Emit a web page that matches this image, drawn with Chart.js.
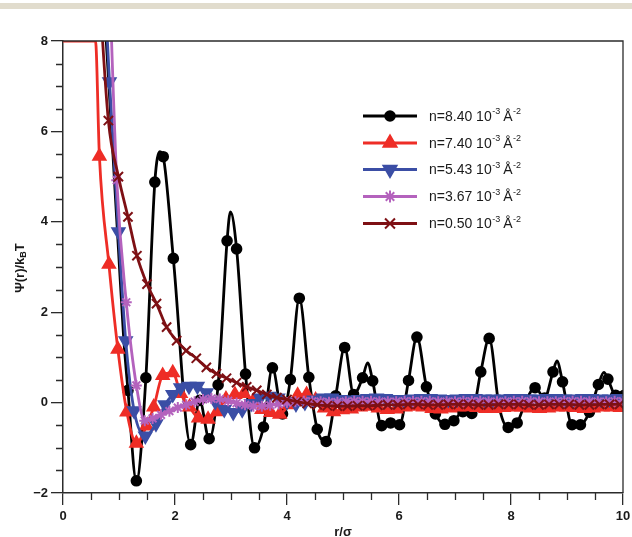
<!DOCTYPE html>
<html>
<head>
<meta charset="utf-8">
<script src="https://cdn.jsdelivr.net/npm/chart.js@4.4.1/dist/chart.umd.min.js"></script>
<style>
  body { margin: 0; background: #fff; }
  #wrap { position: absolute; left: 0; top: 0; width: 632px; height: 537px; }
  #band { position: absolute; left: 0; top: 3px; width: 632px; height: 6px; background: #e1dccd; }
</style>
</head>
<body>
<div id="wrap"><canvas id="chart" width="632" height="537"></canvas></div>
<div id="band"></div>
<script>
// n = 8.40 (black, circles) - 1 = marker shown, 0 = line only
const blackX = [0.70, 0.84, 0.99, 1.08, 1.16, 1.31, 1.48, 1.64, 1.73, 1.79, 1.97, 2.28, 2.44, 2.61, 2.77, 2.93, 2.99, 3.10,
  3.26, 3.42, 3.58, 3.74, 3.92, 4.06, 4.22, 4.39, 4.54, 4.70, 4.87, 5.03, 5.19, 5.35, 5.44, 5.53, 5.69, 5.85, 6.01,
  6.17, 6.32, 6.49, 6.65, 6.82, 6.98, 7.14, 7.30, 7.46, 7.61, 7.79, 7.95, 8.11, 8.27, 8.43, 8.60, 8.75, 8.82, 8.92,
  9.09, 9.24, 9.40, 9.56, 9.66, 9.73, 9.87, 10.02];
const blackY = [9.5, 6.6, 3.4, 1.5, 0.27, -1.73, 0.55, 4.88, 5.55, 5.44, 3.19, -0.93, 0.05, -0.80, 0.39, 3.58, 4.22, 3.40,
  0.63, -1.00, -0.54, 0.77, -0.25, 0.51, 2.31, 0.56, -0.59, -0.86, 0.15, 1.22, 0.18, 0.55, 0.88, 0.48, -0.51, -0.45, -0.49,
  0.49, 1.45, 0.35, -0.25, -0.48, -0.40, -0.20, -0.24, 0.68, 1.42, -0.10, -0.55, -0.45, 0.05, 0.33, 0.10, 0.68, 0.92, 0.46,
  -0.49, -0.49, -0.21, 0.40, 0.67, 0.52, 0.16, 0.16];
const blackDot = [0, 0, 0, 0, 1, 1, 1, 1, 0, 1, 1, 1, 1, 1, 1, 1, 0, 1,
  1, 1, 1, 1, 1, 1, 1, 1, 1, 1, 1, 1, 1, 1, 0, 1, 1, 1, 1,
  1, 1, 1, 1, 1, 1, 1, 1, 1, 1, 1, 1, 1, 1, 1, 1, 1, 0, 1,
  1, 1, 1, 1, 0, 1, 1, 1];

// n = 7.40 (red, triangles)
const redX = [0, 0.58, 0.65, 0.82, 0.98, 1.14, 1.31, 1.49, 1.62, 1.78, 1.96, 2.10, 2.26, 2.42, 2.59, 2.75, 2.91, 3.07,
  3.23, 3.39, 3.55, 3.71, 3.87, 4.03, 4.19, 4.35, 4.51, 4.67, 4.83, 4.99, 5.15, 5.31, 5.47, 5.63, 5.79, 5.95, 6.11,
  6.27, 6.43, 6.59, 6.75, 6.91, 7.07, 7.23, 7.39, 7.55, 7.71, 7.87, 8.03, 8.19, 8.35, 8.51, 8.67, 8.83, 8.99, 9.15,
  9.31, 9.47, 9.63, 9.79, 9.95];
const redY = [8.0, 8.0, 5.45, 3.06, 1.18, -0.21, -0.90, -0.52, -0.10, 0.60, 0.66, 0.20, -0.10, -0.34, -0.37, -0.20, 0.08, 0.18,
  0.20, 0.02, -0.15, -0.22, -0.26, -0.05, 0.16, 0.18, 0.06, -0.12, -0.20, -0.16, -0.14, -0.10, -0.08, -0.12, -0.15, -0.14, -0.10,
  -0.08, -0.10, -0.13, -0.14, -0.12, -0.10, -0.09, -0.11, -0.13, -0.13, -0.11, -0.10, -0.10, -0.12, -0.13, -0.12, -0.10, -0.10, -0.11,
  -0.13, -0.12, -0.10, -0.10, -0.11];

// n = 5.43 (blue, inverted triangles)
const blueX = [0.67, 0.83, 0.99, 1.12, 1.27, 1.47, 1.66, 1.82, 1.96, 2.10, 2.25, 2.40, 2.56, 2.72, 2.88, 3.04, 3.20, 3.36,
  3.52, 3.68, 3.84, 4.00, 4.16, 4.32, 4.48, 4.64, 4.80, 4.96, 5.12, 5.28, 5.44, 5.60, 5.76, 5.92, 6.08, 6.24, 6.40,
  6.56, 6.72, 6.88, 7.04, 7.20, 7.36, 7.52, 7.68, 7.84, 8.00, 8.16, 8.32, 8.48, 8.64, 8.80, 8.96, 9.12, 9.28, 9.44,
  9.60, 9.76, 9.92];
const blueY = [11.0, 7.10, 3.78, 1.37, -0.18, -0.74, -0.47, -0.05, 0.18, 0.33, 0.36, 0.36, 0.22, 0.02, -0.15, -0.22, -0.16, -0.02,
  0.10, 0.14, 0.10, 0.02, -0.03, 0.00, 0.06, 0.10, 0.10, 0.07, 0.06, 0.07, 0.09, 0.10, 0.09, 0.07, 0.07, 0.08, 0.09,
  0.09, 0.08, 0.07, 0.08, 0.09, 0.09, 0.08, 0.08, 0.08, 0.09, 0.09, 0.08, 0.08, 0.09, 0.09, 0.08, 0.08, 0.09, 0.09,
  0.08, 0.08, 0.09];

// n = 3.67 (purple, asterisks)
const purpleX = [0.80, 0.96, 1.13, 1.31, 1.46, 1.60, 1.75, 1.90, 2.05, 2.20, 2.35, 2.50, 2.65, 2.80, 2.95, 3.10, 3.25, 3.40,
  3.55, 3.70, 3.85, 4.00, 4.15, 4.30, 4.45, 4.60, 4.75, 4.90, 5.05, 5.20, 5.35, 5.50, 5.65, 5.80, 5.95, 6.10, 6.25,
  6.40, 6.55, 6.70, 6.85, 7.00, 7.15, 7.30, 7.45, 7.60, 7.75, 7.90, 8.05, 8.20, 8.35, 8.50, 8.65, 8.80, 8.95, 9.10,
  9.25, 9.40, 9.55, 9.70, 9.85, 10.0];
const purpleY = [10.5, 4.92, 2.22, 0.38, -0.40, -0.35, -0.27, -0.19, -0.11, -0.05, 0.02, 0.07, 0.09, 0.08, 0.04, -0.01, -0.05, -0.08,
  -0.08, -0.06, -0.03, 0.00, 0.02, 0.03, 0.03, 0.02, 0.01, 0.01, 0.02, 0.03, 0.03, 0.03, 0.02, 0.02, 0.02, 0.03, 0.03,
  0.03, 0.03, 0.02, 0.02, 0.02, 0.03, 0.03, 0.03, 0.02, 0.02, 0.02, 0.03, 0.03, 0.03, 0.02, 0.02, 0.02, 0.03, 0.03,
  0.03, 0.02, 0.02, 0.02, 0.03, 0.03];

// n = 0.50 (dark red, crosses)
const darkX = [0.64, 0.81, 0.99, 1.16, 1.32, 1.50, 1.67, 1.85, 2.03, 2.20, 2.38, 2.56, 2.74, 2.92, 3.10, 3.28, 3.46, 3.64,
  3.82, 4.00, 4.18, 4.36, 4.54, 4.72, 4.90, 5.08, 5.26, 5.44, 5.62, 5.80, 5.98, 6.16, 6.34, 6.52, 6.70, 6.88, 7.06,
  7.24, 7.42, 7.60, 7.78, 7.96, 8.14, 8.32, 8.50, 8.68, 8.86, 9.04, 9.22, 9.40, 9.58, 9.76, 9.94];
const darkY = [9.3, 6.24, 5.00, 4.11, 3.25, 2.62, 2.19, 1.67, 1.37, 1.15, 0.98, 0.78, 0.64, 0.54, 0.44, 0.35, 0.27, 0.18,
  0.11, 0.07, 0.02, -0.02, -0.05, -0.07, -0.08, -0.08, -0.07, -0.07, -0.06, -0.05, -0.05, -0.04, -0.04, -0.05, -0.05, -0.04, -0.04,
  -0.04, -0.05, -0.05, -0.04, -0.04, -0.04, -0.05, -0.05, -0.04, -0.04, -0.04, -0.05, -0.05, -0.04, -0.04, -0.04];

const legendLabels = ['n=8.40 10', 'n=7.40 10', 'n=5.43 10', 'n=3.67 10', 'n=0.50 10'];
const xTicks = [0, 2, 4, 6, 8, 10];
const yTicks = [-2, 0, 2, 4, 6, 8];

const FONT = "'Liberation Sans Narrow', 'Liberation Sans', Arial, sans-serif";
const AXIS = '#2b2b2b';

function pts(xs, ys) {
  return xs.map((x, i) => ({ x: x, y: ys[i] }));
}

const series = [
  { data: pts(blackX, blackY), color: '#000000', style: 'circle', rot: 0, radius: blackDot.map(d => d ? 4.8 : 0), order: 5 },
  { data: pts(redX, redY), color: '#ee2d26', style: 'triangle', rot: 0, radius: redX.map(x => x < 0.6 ? 0 : 7), order: 4 },
  { data: pts(blueX, blueY), color: '#3b4ea5', style: 'triangle', rot: 180, radius: 7, order: 3 },
  { data: pts(purpleX, purpleY), color: '#b462bd', style: 'star', rot: 0, radius: purpleX.map(x => x < 0.9 ? 0 : 5.5), order: 2 },
  { data: pts(darkX, darkY), color: '#7e1014', style: 'crossRot', rot: 0, radius: 6.5, order: 1 }
];

const minorTicks = {
  id: 'minorTicks',
  afterDraw(chart) {
    const ctx = chart.ctx;
    const a = chart.chartArea;
    const xs = chart.scales.x, ys = chart.scales.y;
    ctx.save();
    ctx.strokeStyle = AXIS;
    ctx.lineWidth = 1.3;
    // frame top and right
    ctx.beginPath();
    ctx.moveTo(a.left, a.top); ctx.lineTo(a.right, a.top); ctx.lineTo(a.right, a.bottom);
    ctx.stroke();
    ctx.beginPath();
    for (let v = 0.5; v < 10; v += 0.5) {
      if (v % 2 === 0) continue;
      const px = Math.round(xs.getPixelForValue(v)) + 0.5;
      ctx.moveTo(px, a.bottom); ctx.lineTo(px, a.bottom + 7);
    }
    for (let v = -1.5; v < 8; v += 0.5) {
      if (Math.abs(v % 2) === 0) continue;
      const py = Math.round(ys.getPixelForValue(v)) + 0.5;
      ctx.moveTo(a.left, py); ctx.lineTo(a.left - 7, py);
    }
    ctx.stroke();

    // axis titles
    ctx.fillStyle = '#1a1a1a';
    ctx.font = "bold 13px " + FONT;
    ctx.textAlign = 'center';
    ctx.textBaseline = 'middle';
    ctx.fillText('r/σ', (a.left + a.right) / 2, 532);

    ctx.save();
    ctx.translate(20, 268);
    ctx.rotate(-Math.PI / 2);
    ctx.textAlign = 'left';
    const main1 = 'Ψ(r)/k', sub = 'B', main2 = 'T';
    ctx.font = "bold 13px " + FONT;
    const w1 = ctx.measureText(main1).width;
    const w3 = ctx.measureText(main2).width;
    ctx.font = "bold 9px " + FONT;
    const w2 = ctx.measureText(sub).width;
    let x0 = -(w1 + w2 + w3) / 2;
    ctx.font = "bold 13px " + FONT;
    ctx.fillText(main1, x0, 0);
    ctx.font = "bold 9px " + FONT;
    ctx.fillText(sub, x0 + w1, 4);
    ctx.font = "bold 13px " + FONT;
    ctx.fillText(main2, x0 + w1 + w2, 0);
    ctx.restore();

    // legend
    const rowsY = [116, 143, 169.5, 196.5, 223.5];
    const legR = [4.8, 7.5, 7.5, 6, 7];
    series.forEach((s, i) => {
      const y = rowsY[i];
      ctx.strokeStyle = s.color;
      ctx.fillStyle = s.color;
      ctx.lineWidth = 2.8;
      ctx.beginPath();
      ctx.moveTo(363, y); ctx.lineTo(417, y);
      ctx.stroke();
      ctx.lineWidth = 2;
      Chart.helpers.drawPoint(ctx, { pointStyle: s.style, radius: legR[i], rotation: s.rot, borderWidth: 2 }, 390, y);
      ctx.fillStyle = '#1a1a1a';
      ctx.textAlign = 'left';
      ctx.textBaseline = 'middle';
      ctx.font = "14px 'Liberation Sans', Arial, sans-serif";
      let tx = 429;
      ctx.fillText(legendLabels[i], tx, y + 1);
      tx += ctx.measureText(legendLabels[i]).width + 0.5;
      ctx.font = "9px 'Liberation Sans', Arial, sans-serif";
      ctx.fillText('-3', tx, y - 4);
      tx += ctx.measureText('-3').width + 3;
      ctx.font = "14px 'Liberation Sans', Arial, sans-serif";
      ctx.fillText('Å', tx, y + 1);
      tx += ctx.measureText('Å').width + 0.5;
      ctx.font = "9px 'Liberation Sans', Arial, sans-serif";
      ctx.fillText('-2', tx, y - 4);
    });
    ctx.restore();
  }
};

new Chart(document.getElementById('chart'), {
  type: 'line',
  data: {
    datasets: series.map(s => ({
      data: s.data,
      borderColor: s.color,
      backgroundColor: s.color,
      borderWidth: 2.8,
      pointStyle: s.style,
      pointRotation: s.rot,
      pointRadius: s.radius,
      pointBorderWidth: 2,
      pointBorderColor: s.color,
      pointBackgroundColor: s.color,
      cubicInterpolationMode: 'monotone',
      order: s.order
    }))
  },
  options: {
    responsive: false,
    animation: false,
    events: [],
    layout: { padding: { top: 41, right: 8, left: 0, bottom: 0 } },
    plugins: { legend: { display: false }, tooltip: { enabled: false } },
    scales: {
      x: {
        type: 'linear', min: 0, max: 10,
        afterBuildTicks: sc => { sc.ticks = xTicks.map(v => ({ value: v })); },
        afterFit: sc => { sc.height = 44; sc.paddingRight = 0; sc.paddingLeft = 0; },
        grid: { drawOnChartArea: false, tickLength: 12, color: AXIS, lineWidth: 1.3 },
        border: { color: AXIS, width: 1.5 },
        ticks: { color: '#1a1a1a', padding: 4, font: { family: FONT, size: 13, weight: 'bold' }, maxRotation: 0 }
      },
      y: {
        type: 'linear', min: -2, max: 8,
        afterBuildTicks: sc => { sc.ticks = yTicks.map(v => ({ value: v })); },
        afterFit: sc => { sc.width = 63; sc.paddingTop = 0; sc.paddingBottom = 0; },
        grid: { drawOnChartArea: false, tickLength: 12, color: AXIS, lineWidth: 1.3 },
        border: { color: AXIS, width: 1.5 },
        ticks: { color: '#1a1a1a', padding: 3, font: { family: FONT, size: 13, weight: 'bold' },
          callback: v => String(v).replace('-', '\u2212') }
      }
    }
  },
  plugins: [minorTicks]
});
</script>
</body>
</html>
